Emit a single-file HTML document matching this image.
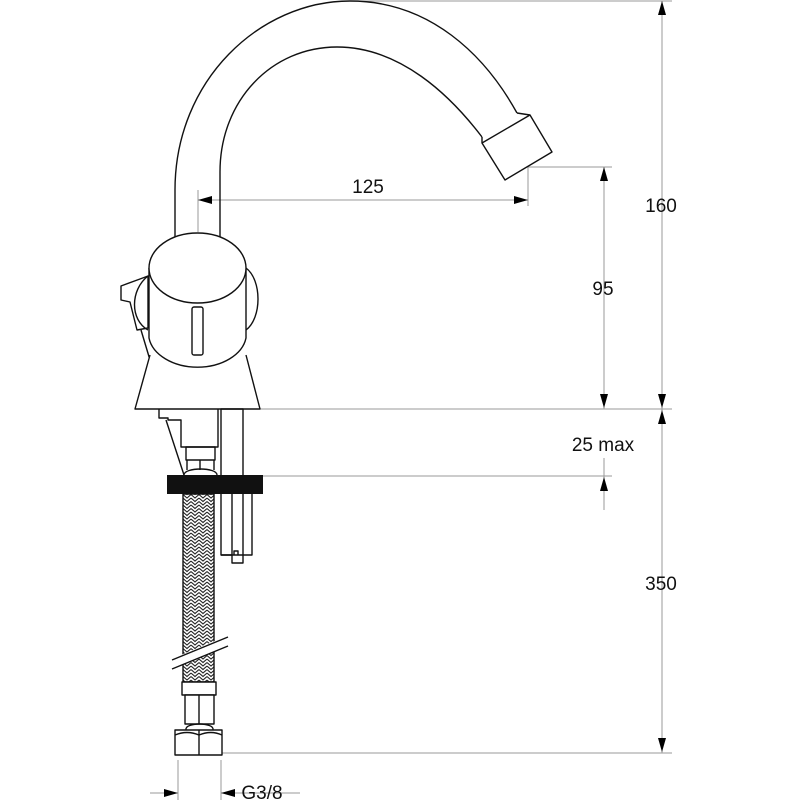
<!DOCTYPE html>
<html><head><style>html,body{margin:0;padding:0;background:#fff}svg{display:block}</style></head>
<body>
<svg width="800" height="800" viewBox="0 0 800 800" xmlns="http://www.w3.org/2000/svg">
<defs>
<pattern id="braid" x="183" y="494" width="8" height="7" patternUnits="userSpaceOnUse">
<rect width="8" height="7" fill="#fff"/>
<path d="M0,0.5 L4,4 L8,0.5 M0,4 L4,7.5 L8,4 M0,-3 L4,0.5 L8,-3" stroke="#222" stroke-width="1.1" fill="none"/>
</pattern>
</defs>
<g fill="none" stroke="#999" stroke-width="1">
<line x1="350" y1="1" x2="672" y2="1"/>
<line x1="528" y1="167" x2="612" y2="167"/>
<line x1="260" y1="409" x2="672" y2="409"/>
<line x1="263" y1="476" x2="612" y2="476"/>
<line x1="222" y1="753" x2="672" y2="753"/>
<line x1="198" y1="190" x2="198" y2="232"/>
<line x1="528" y1="167" x2="528" y2="206"/>
<line x1="198" y1="200" x2="528" y2="200"/>
<line x1="662" y1="1" x2="662" y2="753"/>
<line x1="604" y1="167" x2="604" y2="409"/>
<line x1="604" y1="458" x2="604" y2="510"/>
<line x1="178" y1="760" x2="178" y2="800"/>
<line x1="221" y1="760" x2="221" y2="800"/>
<line x1="150" y1="793" x2="178" y2="793"/>
<line x1="221" y1="793" x2="300" y2="793"/>
</g>
<g fill="#000">
<path d="M198,200 l14,-4 v8z"/><path d="M528,200 l-14,-4 v8z"/>
<path d="M662,1 l-4,14 h8z"/><path d="M662,408 l-4,-14 h8z"/>
<path d="M662,410 l-4,14 h8z"/><path d="M662,752 l-4,-14 h8z"/>
<path d="M604,167 l-4,14 h8z"/><path d="M604,408 l-4,-14 h8z"/>
<path d="M604,477 l-4,14 h8z"/>
<path d="M178,793 l-14,-4 v8z"/><path d="M221,793 l14,-4 v8z"/>
</g>
<g font-family="Liberation Sans, sans-serif" font-size="19" fill="#111" text-anchor="middle">
<text x="368" y="193">125</text>
<text x="661" y="212">160</text>
<text x="603" y="295">95</text>
<text x="603" y="451">25 max</text>
<text x="661" y="590">350</text>
<text x="262" y="799">G3/8</text>
</g>
<g fill="none" stroke="#111" stroke-width="1.4" stroke-linejoin="round">
<path d="M175,238 L175,190 C175,80 260,1 350,1 C430,1 485,55 517,113"/>
<path d="M220,238 L220,172 C220,100 272,47 337,47 C400,47 450,95 482,137"/>
<path d="M517,113 L530,115 L552,152 L505,180 L482,143 L482,137" fill="#fff"/>
<line x1="482" y1="143" x2="530" y2="115"/>
<path d="M246,268 C262,280 262,318 246,330"/>
<path d="M121,286 L121,300 L130,302 L134,318 L137,330 L148,328 L148,276 L140,279 Z" fill="#fff"/>
<path d="M148,276 C130,290 130,320 148,330"/>
<line x1="141" y1="330" x2="150" y2="360"/>
<path d="M150,355 L135,409 L260,409 L246,355" fill="#fff"/>
<path d="M149,268 L149,338 A49,34 0 0 0 246,338 L246,268" fill="#fff"/>
<ellipse cx="197.5" cy="268" rx="48.5" ry="35" fill="#fff"/>
<rect x="192" y="307" width="11" height="48" rx="2" fill="#fff"/>
<path d="M159,409 L159,418 L168,418 L168,420 L181,420 L181,447 L218,447 L218,409"/>
<line x1="166" y1="420" x2="184" y2="475"/>
<rect x="221" y="409" width="22" height="67"/>
<rect x="186" y="447" width="29" height="13"/>
<path d="M187,460 L187,470 M214,460 L214,470 M200,460 L200,470"/>
<path d="M184,475 C184,467 217,467 217,475"/>
<path d="M221,494 L221,555 L252,555 L252,494"/>
<path d="M232,494 L232,555 M243,494 L243,555"/>
<path d="M221,555 L232,555 L232,563 L243,563 L243,555"/>
<path d="M234,555 l0,-4 h4 v4"/>
<rect x="183" y="494" width="31" height="188" fill="url(#braid)"/>
<path d="M176,657 L222,638 L222,648 L176,667 Z" fill="#fff" stroke="none"/>
<path d="M172,660 L228,637 M172,669 L228,646"/>
<rect x="182" y="682" width="34" height="13" fill="#fff"/>
<rect x="185" y="695" width="29" height="29" fill="#fff"/>
<line x1="199" y1="695" x2="199" y2="724"/>
<path d="M186,730 C184,722 215,722 213,730"/>
<rect x="175" y="730" width="47" height="25" fill="#fff"/>
<line x1="199" y1="730" x2="199" y2="755"/>
<path d="M175,735 Q187,730 199,735 Q211,730 222,735"/>
</g>
<rect x="167" y="475" width="96" height="19" fill="#111"/>
</svg>
</body></html>
